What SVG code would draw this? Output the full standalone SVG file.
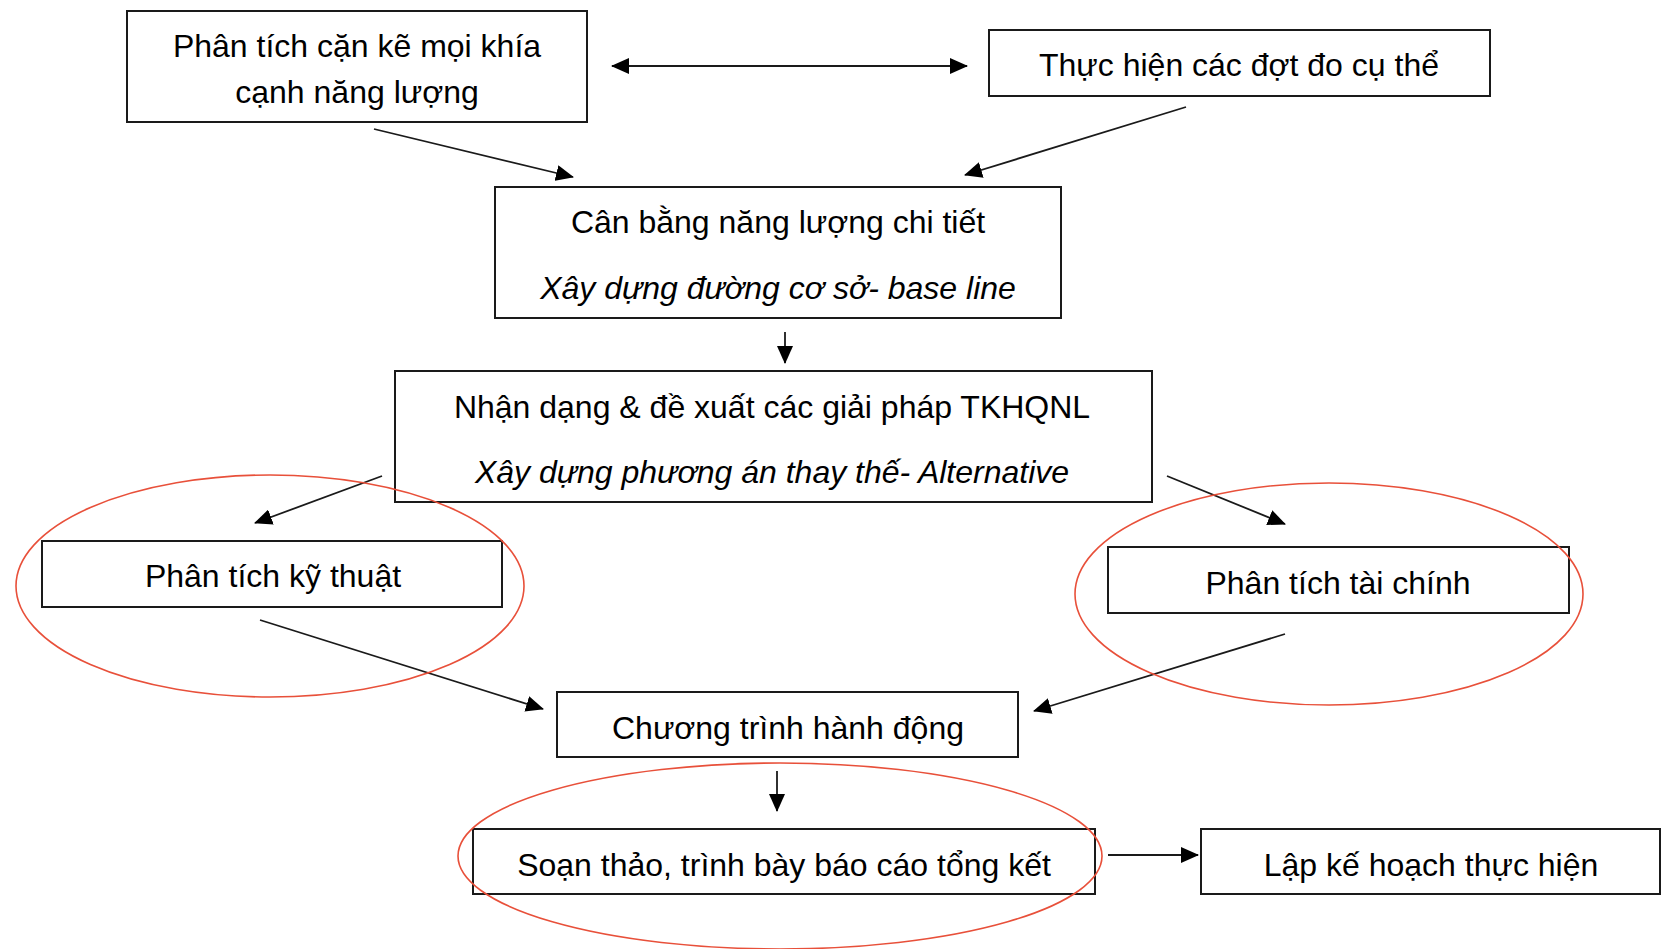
<svg xmlns="http://www.w3.org/2000/svg" width="1663" height="949" viewBox="0 0 1663 949">
<style>
.box{fill:#fff;stroke:#1a1a1a;stroke-width:2}
.t{font-family:"Liberation Sans",Arial,sans-serif;font-size:32px;fill:#000;text-anchor:middle}
.i{font-style:italic}
.c{stroke:#1a1a1a;stroke-width:1.8;fill:none;marker-end:url(#ah)}
.e{fill:none;stroke:#e8503a;stroke-width:1.6}
</style>
<defs>
<marker id="ah" markerWidth="18" markerHeight="16" refX="17" refY="8" orient="auto" markerUnits="userSpaceOnUse">
<path d="M0,0 L18,8 L0,16 Z" fill="#000"/>
</marker>
<marker id="as" markerWidth="18" markerHeight="16" refX="1" refY="8" orient="auto" markerUnits="userSpaceOnUse">
<path d="M18,0 L0,8 L18,16 Z" fill="#000"/>
</marker>
</defs>
<rect width="1663" height="949" fill="#fff"/>
<g id="n1"><rect class="box" x="127" y="11" width="460" height="111"/>
<text class="t" x="357" y="57">Phân tích cặn kẽ mọi khía</text>
<text class="t" x="357" y="103">cạnh năng lượng</text></g>
<g id="n2"><rect class="box" x="989" y="30" width="501" height="66"/>
<text class="t" x="1239" y="76">Thực hiện các đợt đo cụ thể</text></g>
<g id="n3"><rect class="box" x="495" y="187" width="566" height="131"/>
<text class="t" x="778" y="233">Cân bằng năng lượng chi tiết</text>
<text class="t i" x="778" y="299">Xây dựng đường cơ sở- base line</text></g>
<g id="n4"><rect class="box" x="395" y="371" width="757" height="131"/>
<text class="t" x="772" y="418">Nhận dạng &amp; đề xuất các giải pháp TKHQNL</text>
<text class="t i" x="772" y="483">Xây dựng phương án thay thế- Alternative</text></g>
<g id="n5"><rect class="box" x="42" y="541" width="460" height="66"/>
<text class="t" x="273" y="587">Phân tích kỹ thuật</text></g>
<g id="n6"><rect class="box" x="1108" y="547" width="461" height="66"/>
<text class="t" x="1338" y="594">Phân tích tài chính</text></g>
<g id="n7"><rect class="box" x="557" y="692" width="461" height="65"/>
<text class="t" x="788" y="739">Chương trình hành động</text></g>
<g id="n8"><rect class="box" x="473" y="829" width="622" height="65"/>
<text class="t" x="784" y="876">Soạn thảo, trình bày báo cáo tổng kết</text></g>
<g id="n9"><rect class="box" x="1201" y="829" width="459" height="65"/>
<text class="t" x="1431" y="876">Lập kế hoạch thực hiện</text></g>
<g id="connectors">
<line class="c" x1="612" y1="66" x2="967" y2="66" marker-start="url(#as)"/>
<line class="c" x1="374" y1="129" x2="573" y2="177"/>
<line class="c" x1="1186" y1="107" x2="965" y2="175"/>
<line class="c" x1="785" y1="332" x2="785" y2="363"/>
<line class="c" x1="382" y1="476" x2="255" y2="523"/>
<line class="c" x1="1167" y1="476" x2="1285" y2="524"/>
<line class="c" x1="260" y1="620" x2="543" y2="709"/>
<line class="c" x1="1285" y1="634" x2="1034" y2="711"/>
<line class="c" x1="777" y1="771" x2="777" y2="811"/>
<line class="c" x1="1108" y1="855" x2="1198" y2="855"/>
</g>
<g id="highlights">
<ellipse class="e" cx="270" cy="586" rx="254" ry="111"/>
<ellipse class="e" cx="1329" cy="594" rx="254" ry="111"/>
<ellipse class="e" cx="780" cy="856" rx="322" ry="93"/>
</g>
</svg>
